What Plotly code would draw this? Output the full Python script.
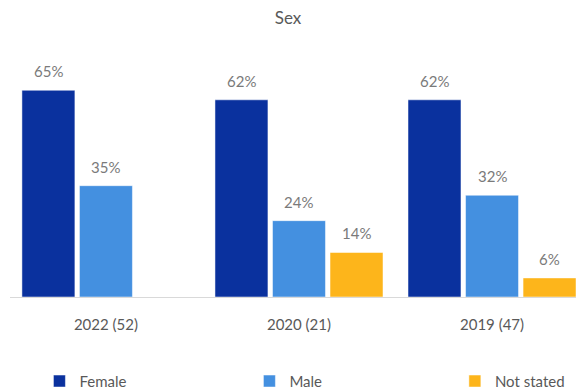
import plotly.graph_objects as go

# Survey responses by sex, share of respondents per survey year
categories = ["2022 (52)", "2020 (21)", "2019 (47)"]
female = [65, 62, 62]
male = [35, 24, 32]
not_stated = [None, 14, 6]

series = [
    ("Female", female, "#0a319e", "legend", 0.052),
    ("Male", male, "#4490e0", "legend2", 0.423),
    ("Not stated", not_stated, "#fdb51b", "legend3", 0.786),
]

FONT = "Lato, 'Open Sans', sans-serif"

fig = go.Figure()
for name, values, color, legend_id, _ in series:
    fig.add_trace(go.Bar(
        name=name,
        x=categories,
        y=values,
        marker=dict(color=color, line=dict(color="white", width=0.5)),
        legend=legend_id,
        hoverinfo="skip",
    ))

# Value labels above each bar, offset sideways to sit over its grouped bar
slot_px = 57.5
for i, (name, values, color, _, _) in enumerate(series):
    for cat, v in zip(categories, values):
        if v is None:
            continue
        fig.add_annotation(
            x=cat, y=v, text=f"{v}%", showarrow=False,
            xshift=(i - 1) * slot_px, yshift=8, yanchor="bottom",
            font=dict(family=FONT, size=15, color="#7a7a7a"),
        )

legend_style = dict(
    orientation="h", xanchor="left", yanchor="middle", y=-0.328,
    font=dict(family=FONT, size=15, color="#595959"),
    bgcolor="rgba(0,0,0,0)", itemclick=False, itemdoubleclick=False,
)
fig.update_layout(
    width=576, height=392,
    margin=dict(l=10, r=0, t=40, b=95, autoexpand=False),
    paper_bgcolor="white", plot_bgcolor="white",
    barmode="group", bargap=0.106, bargroupgap=0.079,
    title=dict(text="Sex", x=0.5, xanchor="center", y=0.955, yanchor="middle",
               font=dict(family=FONT, size=17, color="#595959")),
    font=dict(family=FONT, color="#595959"),
    showlegend=True,
    legend=dict(legend_style, x=series[0][4]),
    legend2=dict(legend_style, x=series[1][4]),
    legend3=dict(legend_style, x=series[2][4]),
    xaxis=dict(
        range=[-0.497, 2.435], showline=True, linecolor="#d9d9d9", linewidth=1,
        ticks="", ticklabelstandoff=14,
        tickfont=dict(family=FONT, size=15, color="#595959"),
        showgrid=False, zeroline=False, fixedrange=True,
    ),
    yaxis=dict(range=[0, 80.8], visible=False, showgrid=False, zeroline=False,
               fixedrange=True),
)

fig.write_html("out.html")
